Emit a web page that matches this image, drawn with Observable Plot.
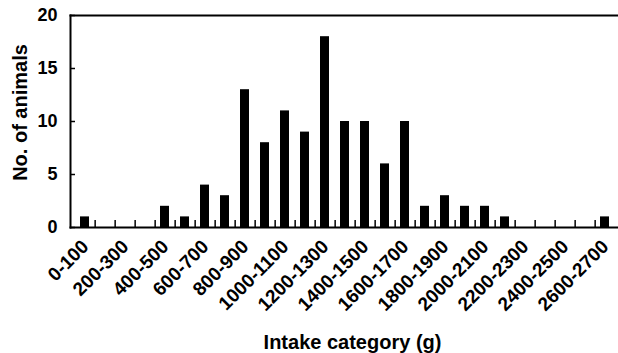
<!DOCTYPE html>
<html><head><meta charset="utf-8">
<script src="https://cdn.jsdelivr.net/npm/d3@7"></script>
<script src="https://cdn.jsdelivr.net/npm/@observablehq/plot@0.6"></script>
<style>body{margin:0;background:#fff}</style>
</head><body><div id="chart"></div>
<script>
const categories = ["0-100","100-200","200-300","300-400","400-500","500-600","600-700","700-800","800-900","900-1000","1000-1100","1100-1200","1200-1300","1300-1400","1400-1500","1500-1600","1600-1700","1700-1800","1800-1900","1900-2000","2000-2100","2100-2200","2200-2300","2300-2400","2400-2500","2500-2600","2600-2700"];
const counts = [1,0,0,0,2,1,4,3,13,8,11,9,18,10,10,6,10,2,3,2,2,1,0,0,0,0,1];
const labeledCategories = categories.filter((d, i) => i % 2 === 0);
const yTicks = [0, 5, 10, 15, 20];
const xTitle = "Intake category (g)";
const yTitle = "No. of animals";

const data = categories.map((c, i) => ({category: c, count: counts[i]}));
const font = "'Liberation Sans', Arial, Helvetica, sans-serif";

const chart = Plot.plot({
  width: 618, height: 353,
  marginLeft: 70, marginRight: 0, marginTop: 15, marginBottom: 126,
  style: {fontFamily: font, background: "white", color: "black", overflow: "visible"},
  x: {type: "band", domain: categories, paddingInner: 0.56, paddingOuter: 0.28, align: 0.5},
  y: {domain: [0, 20]},
  marks: [
    Plot.barY(data, {x: "category", y: "count", fill: "black"}),
    Plot.axisX({ticks: categories.slice(0, -1), tickSize: -7, fill: "none", dx: 10.15, strokeWidth: 1.5, label: null}),
    Plot.axisX({ticks: labeledCategories, tickSize: 0, tickPadding: 16, tickRotate: -45, textAnchor: "end", lineAnchor: "middle", dx: 0.5, fontSize: 19, fontWeight: "bold", label: null}),
    Plot.axisY({ticks: yTicks, tickSize: -5, fill: "none", strokeWidth: 1.5, label: null}),
    Plot.axisY({ticks: yTicks, tickSize: 0, tickPadding: 13, fontSize: 18, fontWeight: "bold", label: null}),
    Plot.frame({anchor: "left", strokeWidth: 2}),
    Plot.frame({anchor: "top", strokeWidth: 2}),
    Plot.frame({anchor: "bottom", strokeWidth: 2}),
    Plot.text([yTitle], {frameAnchor: "left", textAnchor: "middle", lineAnchor: "middle", dx: -50, dy: -9, rotate: -90, fontSize: 20, fontWeight: "bold"}),
    Plot.text([xTitle], {frameAnchor: "bottom", textAnchor: "middle", lineAnchor: "middle", dx: 8, dy: 115, fontSize: 20, fontWeight: "bold"})
  ]
});
document.getElementById("chart").appendChild(chart);
</script>
</body></html>
